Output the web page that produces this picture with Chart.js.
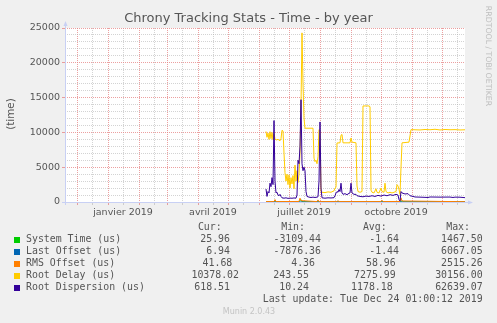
<!DOCTYPE html>
<html><head><meta charset="utf-8">
<script src="https://cdn.jsdelivr.net/npm/chart.js@4/dist/chart.umd.min.js"></script>
<style>html,body{margin:0;padding:0;background:#F0F0F0;}#wrap{width:497px;height:323px;}</style>
</head><body><div id="wrap"><canvas id="c" width="497" height="323"></canvas></div>
<script>
// ---------------- data ----------------
const chartTitle = 'Chrony Tracking Stats - Time - by year';
const yAxisTitle = '(time)';
const seriesNames = ['System Time (us)', 'Last Offset (us)', 'RMS Offset (us)', 'Root Delay (us)', 'Root Dispersion (us)'];
const seriesColors = ['#00CC00', '#0066B3', '#FF8000', '#FFCC00', '#330099'];
const statHeaders = ['Cur:', 'Min:', 'Avg:', 'Max:'];
const statCur = ['25.96', '6.94', '41.68', '10378.02', '618.51'];
const statMin = ['-3109.44', '-7876.36', '4.36', '243.55', '10.24'];
const statAvg = ['-1.64', '-1.44', '58.96', '7275.99', '1178.18'];
const statMax = ['1467.50', '6067.05', '2515.26', '30156.00', '62639.07'];
const lastUpdate = 'Last update: Tue Dec 24 01:00:12 2019';
const footerText = 'Munin 2.0.43';
const watermark = 'RRDTOOL / TOBI OETIKER';

// x values: days since the start of the 400-day window (19 Nov 2018)
const windowStart = [2018, 10, 19];
const windowDays = 400;
const yTickValues = [0, 5000, 10000, 15000, 20000, 25000];
const labeledMonths = [[2019, 0, 'janvier 2019'], [2019, 3, 'avril 2019'], [2019, 6, 'juillet 2019'], [2019, 9, 'octobre 2019']];

const sysTimeDays = [201, 220, 234, 235, 236, 237, 260, 300, 336, 337, 338, 400];
const sysTimeVals = [20, 25, 30, 250, 350, 40, 20, 25, 30, 200, 30, 26];

const lastOffDays = [201, 250, 300, 350, 400];
const lastOffVals = [5, 6, 4, 7, 7];

const rmsDays = [201, 209, 210, 211, 234, 235, 236, 252, 253, 254, 272, 273, 274, 316, 317, 318, 335, 336, 337, 400];
const rmsVals = [60, 60, 350, 60, 80, 550, 200, 60, 300, 60, 60, 200, 60, 60, 250, 60, 80, 600, 150, 42];

const delayDays = [201, 202, 203, 204, 205, 206, 207, 208, 209, 210, 211, 213, 215, 216, 217, 218, 219, 220, 221, 222, 223, 224, 225, 226, 227, 228, 229, 230, 231, 232, 233, 234, 235, 236, 237, 238, 239, 240, 248, 249, 250, 251, 252, 253, 254, 255, 256, 257, 260, 263, 266, 269, 270, 271, 272, 275, 276, 277, 278, 285, 286, 287, 291, 292, 293, 295, 297, 298, 304, 305, 306, 307, 309, 311, 312, 314, 316, 317, 319, 320, 321, 323, 325, 327, 329, 331, 332, 333, 334, 335, 336, 337, 344, 345, 346, 355, 360, 365, 370, 375, 380, 385, 390, 395, 400];
const delayVals = [10140, 9300, 9900, 9000, 10100, 9100, 10000, 8950, 9800, 9100, 8900, 9000, 8800, 9100, 10300, 10200, 7000, 4200, 3000, 4000, 2500, 3900, 2000, 3500, 2600, 3800, 1900, 5300, 3000, 4500, 2800, 4000, 7000, 14000, 24300, 17000, 12000, 10600, 10600, 6300, 5800, 6000, 5500, 6500, 10400, 10300, 1500, 1400, 1350, 1450, 1400, 1600, 2000, 2100, 8480, 8500, 9600, 9700, 8500, 8500, 9200, 8600, 8500, 2300, 1500, 1400, 1500, 13800, 13800, 13700, 1700, 1400, 1300, 1900, 1400, 1300, 2000, 1500, 1400, 2700, 1500, 1300, 1400, 1300, 1400, 1500, 2500, 2300, 1800, 1100, 5000, 8500, 8600, 9500, 10400, 10350, 10420, 10380, 10450, 10350, 10420, 10380, 10400, 10350, 10378];

const dispDays = [201, 202, 203, 204, 205, 206, 207, 208, 209, 210, 211, 212, 213, 214, 215, 216, 217, 219, 221, 223, 225, 227, 229, 231, 232, 233, 234, 235, 236, 237, 238, 239, 240, 241, 242, 244, 246, 248, 250, 252, 253, 254, 255, 256, 257, 260, 263, 266, 269, 270, 271, 272, 273, 274, 275, 276, 277, 278, 280, 282, 284, 285, 286, 287, 289, 291, 292, 295, 298, 301, 304, 307, 310, 313, 316, 319, 322, 325, 328, 331, 333, 334, 335, 336, 337, 340, 343, 345, 348, 350, 355, 363, 365, 375, 385, 388, 390, 395, 400];
const dispVals = [1870, 800, 1500, 1300, 2700, 2200, 3500, 2500, 11700, 3000, 1300, 1400, 1000, 900, 1100, 800, 600, 550, 600, 520, 560, 540, 580, 550, 1000, 6000, 5500, 8000, 14700, 5500, 4500, 5000, 4500, 1500, 800, 700, 650, 700, 650, 700, 750, 3000, 11500, 2000, 600, 550, 600, 580, 620, 900, 1300, 1500, 1400, 1800, 1500, 2700, 1300, 1100, 1200, 1050, 1250, 1300, 2700, 1300, 1100, 1100, 900, 800, 750, 850, 800, 900, 800, 950, 850, 1000, 900, 1050, 950, 1100, 1000, 350, 150, 1500, 1300, 1150, 1200, 900, 800, 720, 700, 650, 720, 700, 710, 650, 700, 690, 620];

// ---------------- layout / style ----------------
const L = {
  W: 497, H: 323, left: 65, right: 465, top: 28, bottom: 202,
  font: 'DejaVu Sans', mono: 'DejaVu Sans Mono', text: '#555555',
  swatchX: 14, swatchSize: 6, labelX: 26,
  headerY: 227.5, rowY0: 239.7, rowStep: 12, updateY: 299.7, footerY: 311.7,
  headerEnd: [221.7, 305, 386.7, 470],
  colEnd: [[230, 230, 232.3, 239, 230], [321, 321, 315, 309, 309], [399, 399, 395.7, 395.7, 392.7], [482.7, 482.7, 482.7, 482.7, 482.7]]
};
const MGRID = 'rgba(230,128,128,0.75)';
const GRID = 'rgba(175,175,175,0.55)';
const AXIS = '#C8D0F4';

const startMs = Date.UTC(windowStart[0], windowStart[1], windowStart[2]);
const dayOf = (y, m, d) => (Date.UTC(y, m, d) - startMs) / 864e5;
const xTicks = [];
for (let y = 2018; y <= 2019; y++) {
  for (let m = 0; m < 12; m++) {
    const d1 = dayOf(y, m, 1), d16 = dayOf(y, m, 16);
    if (d1 > 0 && d1 < windowDays) xTicks.push({ value: d1, major: true });
    if (d16 > 0 && d16 < windowDays) {
      const lab = labeledMonths.find(e => e[0] === y && e[1] === m);
      xTicks.push({ value: d16, major: false, text: lab ? lab[2] : '' });
    }
  }
}
xTicks.sort((a, b) => a.value - b.value);

const pts = (xs, ys) => xs.map((x, i) => ({ x: x, y: ys[i] }));
const seriesData = [pts(sysTimeDays, sysTimeVals), pts(lastOffDays, lastOffVals), pts(rmsDays, rmsVals), pts(delayDays, delayVals), pts(dispDays, dispVals)];

const decor = {
  id: 'decor',
  beforeDraw(chart) {
    const { ctx, chartArea: a } = chart;
    ctx.save();
    ctx.fillStyle = '#F0F0F0';
    ctx.fillRect(0, 0, L.W, L.H);
    ctx.fillStyle = '#FFFFFF';
    ctx.fillRect(a.left, a.top, a.right - a.left, a.bottom - a.top);
    ctx.restore();
  },
  beforeDatasetsDraw(chart) {
    const { ctx, chartArea: a } = chart;
    ctx.save();
    ctx.strokeStyle = AXIS; ctx.fillStyle = AXIS; ctx.lineWidth = 1;
    ctx.beginPath();
    ctx.moveTo(a.left + 0.5, a.bottom + 3); ctx.lineTo(a.left + 0.5, a.top - 3);
    ctx.moveTo(a.left - 3, a.bottom + 0.5); ctx.lineTo(a.right + 4, a.bottom + 0.5);
    ctx.stroke();
    ctx.beginPath();
    ctx.moveTo(a.left - 1.5, a.top - 2); ctx.lineTo(a.left + 0.5, a.top - 7); ctx.lineTo(a.left + 2.5, a.top - 2); ctx.closePath(); ctx.fill();
    ctx.beginPath();
    ctx.moveTo(a.right + 3, a.bottom - 1.5); ctx.lineTo(a.right + 8, a.bottom + 0.5); ctx.lineTo(a.right + 3, a.bottom + 2.5); ctx.closePath(); ctx.fill();
    ctx.restore();
  },
  afterDraw(chart) {
    const { ctx } = chart;
    ctx.save();
    ctx.fillStyle = L.text;
    ctx.textBaseline = 'middle';
    ctx.textAlign = 'center';
    ctx.font = '13px "' + L.font + '"';
    ctx.fillText(chartTitle, 248.5, 19);
    // y-axis title
    ctx.save();
    ctx.translate(11, 114);
    ctx.rotate(-Math.PI / 2);
    ctx.font = '10.4px "' + L.font + '"';
    ctx.fillText(yAxisTitle, 0, 0);
    ctx.restore();
    // watermark
    ctx.save();
    ctx.translate(488.5, 56);
    ctx.rotate(Math.PI / 2);
    ctx.fillStyle = '#BEBEBE';
    ctx.font = '7.8px "' + L.font + '"';
    ctx.fillText(watermark, 0, 0);
    ctx.restore();
    // legend
    ctx.font = '9.9px "' + L.mono + '"';
    ctx.textAlign = 'right';
    statHeaders.forEach((h, i) => ctx.fillText(h, L.headerEnd[i], L.headerY));
    const cols = [statCur, statMin, statAvg, statMax];
    seriesNames.forEach((name, r) => {
      const y = L.rowY0 + r * L.rowStep;
      ctx.fillStyle = seriesColors[r];
      ctx.fillRect(L.swatchX, Math.round(y - 3), L.swatchSize, L.swatchSize);
      ctx.fillStyle = L.text;
      ctx.textAlign = 'left';
      ctx.fillText(name, L.labelX, y);
      ctx.textAlign = 'right';
      cols.forEach((col, c) => ctx.fillText(col[r], L.colEnd[c][r], y));
    });
    ctx.fillText(lastUpdate, 482.7, L.updateY);
    ctx.textAlign = 'center';
    ctx.fillStyle = '#C4C4C4';
    ctx.font = '8px "' + L.font + '"';
    ctx.fillText(footerText, 249, L.footerY);
    ctx.restore();
  }
};

new Chart(document.getElementById('c'), {
  type: 'line',
  data: {
    datasets: seriesNames.map((n, i) => ({
      label: n, data: seriesData[i], borderColor: seriesColors[i], backgroundColor: seriesColors[i],
      borderWidth: 1, pointRadius: 0, tension: 0, fill: false, order: 4 - i
    }))
  },
  options: {
    responsive: false, animation: false, devicePixelRatio: 1,
    layout: { padding: { left: 0, top: L.top, right: L.W - L.right, bottom: L.H - L.bottom - 20 } },
    plugins: { legend: { display: false }, title: { display: false }, tooltip: { enabled: false } },
    scales: {
      x: {
        type: 'linear', min: 0, max: windowDays,
        afterBuildTicks: s => { s.ticks = xTicks.map(t => ({ value: t.value, major: t.major, text: t.text })); },
        afterFit: s => { s.height = 20; },
        border: { display: false, dash: [1, 1] },
        grid: {
          color: c => (c.tick && c.tick.major) ? MGRID : GRID,
          tickColor: c => (c.tick && c.tick.major) ? MGRID : GRID,
          lineWidth: 1, tickLength: 3, drawTicks: true
        },
        ticks: {
          autoSkip: false, maxRotation: 0, padding: 2, color: L.text,
          font: { family: L.font, size: 9.5 },
          callback: function (v, i) { return xTicks[i] && xTicks[i].text ? xTicks[i].text : ''; }
        }
      },
      y: {
        type: 'linear', min: 0, max: 25000,
        afterFit: s => { s.width = L.left; },
        border: { display: false, dash: [1, 1] },
        grid: {
          color: c => (c.tick && yTickValues.includes(c.tick.value)) ? MGRID : GRID,
          tickColor: c => (c.tick && yTickValues.includes(c.tick.value)) ? MGRID : 'rgba(0,0,0,0)',
          lineWidth: 1, tickLength: 3
        },
        ticks: {
          stepSize: 1000, autoSkip: false, padding: 2, color: L.text,
          font: { family: L.font, size: 9.5 },
          callback: v => yTickValues.includes(v) ? String(v) : ''
        }
      }
    }
  },
  plugins: [decor]
});
</script>
</body></html>
